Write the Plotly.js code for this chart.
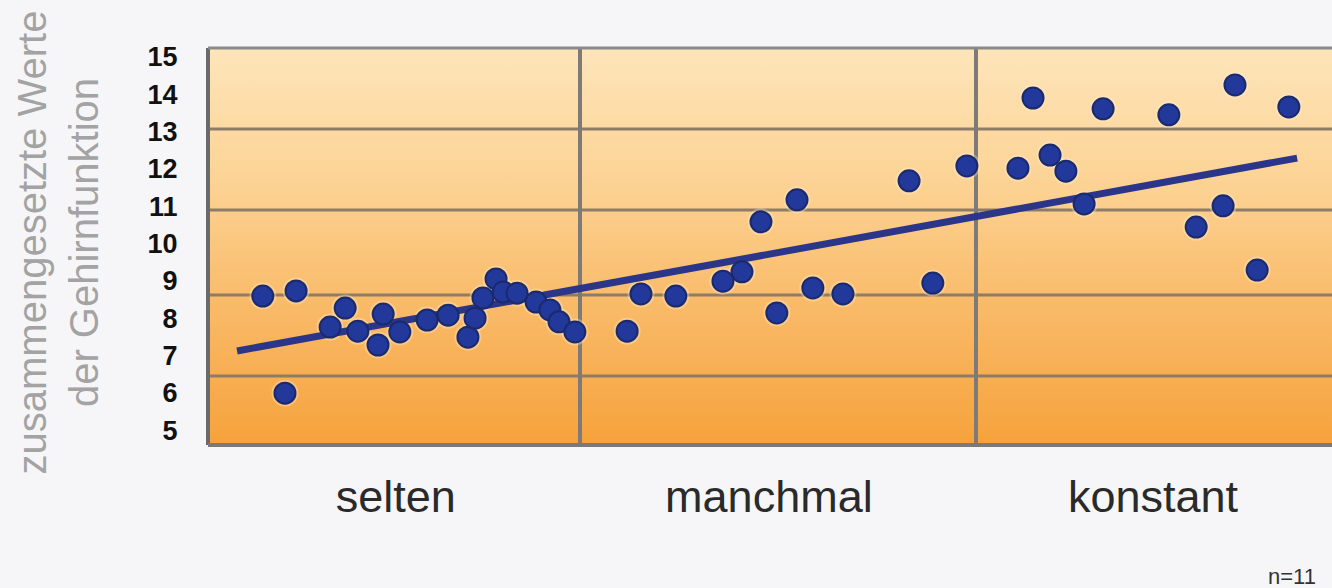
<!DOCTYPE html>
<html>
<head>
<meta charset="utf-8">
<script src="https://cdn.plot.ly/plotly-3.0.1.min.js"></script>
<style>
  html, body { margin: 0; padding: 0; background: #f6f6f8; }
  #chart { width: 1332px; height: 588px; }
</style>
</head>
<body>
<div id="chart"></div>
<script>
// Frequency groups on the x axis (each group spans one unit: 0-1, 1-2, 2-3)
const categories = ['selten', 'manchmal', 'konstant'];

// Individual measurements: position along the frequency scale and composite score
const pointX = [
  0.199, 0.283, 0.255, 0.369, 0.407, 0.439, 0.490, 0.503, 0.545, 0.614,
  0.667, 0.717, 0.735, 0.755, 0.788, 0.806, 0.841, 0.889, 0.924, 0.947, 0.987,
  1.119, 1.154, 1.242, 1.361, 1.409, 1.457, 1.497, 1.548, 1.588, 1.664,
  1.831, 1.891, 1.977,
  2.106, 2.144, 2.187, 2.227, 2.273, 2.321, 2.487, 2.556, 2.624, 2.654, 2.710, 2.790
];
const pointY = [
  8.59, 8.73, 5.99, 7.76, 8.27, 7.65, 7.28, 8.11, 7.63, 7.95,
  8.08, 7.49, 8.00, 8.54, 9.05, 8.70, 8.67, 8.43, 8.22, 7.90, 7.63,
  7.65, 8.65, 8.59, 8.99, 9.24, 10.58, 8.14, 11.17, 8.81, 8.65,
  11.68, 8.94, 12.08,
  12.02, 13.90, 12.37, 11.94, 11.06, 13.61, 13.45, 10.44, 11.01, 14.25, 9.29, 13.66
];

// Linear trend across all groups (start and end)
const trendX = [0.134, 2.811];
const trendY = [7.12, 12.29];

// Y tick labels
const yTicks = [5, 6, 7, 8, 9, 10, 11, 12, 13, 14, 15];

// ---- layout constants ----
const xRange = [0.0606, 2.899];
const yRange = [4.60, 15.24];
const labelPos = [0.535, 1.477, 2.447];     // where the group names sit
const dividers = [1, 2];                      // boundaries between groups
const hGrid = [0.174, 0.378, 0.592, 0.796];   // horizontal band lines (paper fraction)

const gradSvg =
  "<svg xmlns='http://www.w3.org/2000/svg' width='10' height='100' preserveAspectRatio='none'>" +
  "<defs><linearGradient id='g' x1='0' y1='0' x2='0' y2='1'>" +
  "<stop offset='0' stop-color='#fde5ba'/>" +
  "<stop offset='0.35' stop-color='#fcd293'/>" +
  "<stop offset='0.65' stop-color='#f9ba68'/>" +
  "<stop offset='1' stop-color='#f6a23c'/>" +
  "</linearGradient></defs><rect width='10' height='100' fill='url(#g)'/></svg>";

const shapes = [];
hGrid.forEach(v => shapes.push({
  type: 'line', xref: 'paper', yref: 'paper', x0: 0, x1: 1, y0: v, y1: v,
  line: { color: '#8d7c68', width: 3 }, layer: 'below'
}));
dividers.forEach(v => shapes.push({
  type: 'line', xref: 'x', yref: 'paper', x0: v, x1: v, y0: 0, y1: 1,
  line: { color: '#7e7a77', width: 4 }, layer: 'below'
}));
// frame: left, top, bottom
shapes.push({ type: 'line', xref: 'paper', yref: 'paper', x0: 0, x1: 0, y0: 0, y1: 1,
  line: { color: '#6a6a6a', width: 4 } });
shapes.push({ type: 'line', xref: 'paper', yref: 'paper', x0: 0, x1: 1, y0: 1, y1: 1,
  line: { color: '#8a8a8a', width: 3 } });
shapes.push({ type: 'line', xref: 'paper', yref: 'paper', x0: 0, x1: 1, y0: 0, y1: 0,
  line: { color: '#7a7a7a', width: 4 } });

const traces = [
  {
    x: pointX, y: pointY, type: 'scatter', mode: 'markers',
    marker: { size: 27, color: 'rgba(255,238,210,0.35)' },
    hoverinfo: 'skip', showlegend: false, cliponaxis: false
  },
  {
    x: trendX, y: trendY, type: 'scatter', mode: 'lines',
    line: { color: '#2b3589', width: 7 }, showlegend: false
  },
  {
    x: pointX, y: pointY, type: 'scatter', mode: 'markers',
    marker: { size: 21, color: '#22389a', line: { color: '#1a2a6c', width: 2 } },
    showlegend: false, cliponaxis: false
  }
];

const layout = {
  width: 1332, height: 588,
  margin: { l: 208, r: 0, t: 48, b: 143 },
  paper_bgcolor: '#f6f6f8',
  plot_bgcolor: 'rgba(0,0,0,0)',
  showlegend: false,
  font: { family: 'Liberation Sans, Arial, sans-serif', color: '#222' },
  xaxis: {
    range: xRange, showgrid: false, zeroline: false, showline: false,
    tickmode: 'array', tickvals: labelPos, ticktext: categories,
    ticks: 'outside', ticklen: 12, tickcolor: 'rgba(0,0,0,0)',
    tickfont: { size: 45, color: '#2a2a2a', family: 'Liberation Sans, Arial, sans-serif' },
    fixedrange: true
  },
  yaxis: {
    range: yRange, showgrid: false, zeroline: false, showline: false,
    tickmode: 'array', tickvals: yTicks, ticktext: yTicks.map(String),
    ticks: 'outside', ticklen: 24, tickcolor: 'rgba(0,0,0,0)',
    tickfont: { size: 27, color: '#111', family: 'Liberation Sans, Arial, sans-serif', weight: 'bold' },
    fixedrange: true
  },
  images: [{
    source: 'data:image/svg+xml;utf8,' + encodeURIComponent(gradSvg),
    xref: 'paper', yref: 'paper', x: 0, y: 1, sizex: 1, sizey: 1,
    xanchor: 'left', yanchor: 'top', sizing: 'stretch', layer: 'below'
  }],
  shapes: shapes,
  annotations: [
    {
      text: 'zusammengesetzte Werte<br>der Gehirnfunktion',
      xref: 'paper', yref: 'paper', x: -0.1335, y: 0.51,
      xanchor: 'center', yanchor: 'middle', textangle: -90, showarrow: false,
      font: { size: 40, color: '#a3a3a3', family: 'Liberation Sans, Arial, sans-serif' }
    },
    {
      text: 'n=11',
      xref: 'paper', yref: 'paper', x: 0.9413, y: -0.332,
      xanchor: 'left', yanchor: 'middle', showarrow: false,
      font: { size: 22, color: '#333', family: 'Liberation Sans, Arial, sans-serif' }
    }
  ]
};

Plotly.newPlot('chart', traces, layout, { staticPlot: true, displayModeBar: false });
</script>
</body>
</html>
